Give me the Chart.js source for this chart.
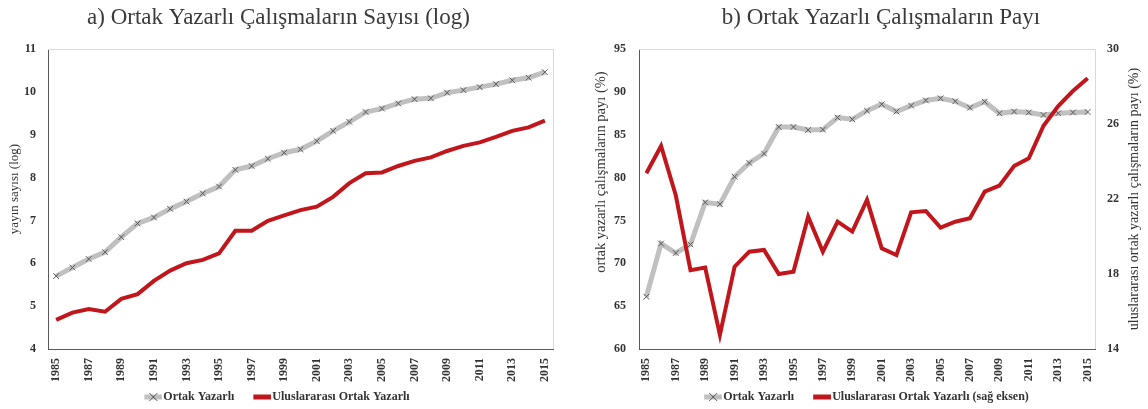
<!DOCTYPE html>
<html>
<head>
<meta charset="utf-8">
<script src="https://cdn.jsdelivr.net/npm/chart.js@4.4.1/dist/chart.umd.min.js"></script>
<style>
  html, body { margin: 0; padding: 0; background: #fff; }
  .wrap { display: flex; width: 1148px; height: 409px; }
  .box { position: relative; width: 574px; height: 409px; }
</style>
</head>
<body>
<div class="wrap">
  <div class="box"><canvas id="chartA"></canvas></div>
  <div class="box"><canvas id="chartB"></canvas></div>
</div>
<script>
// yillar ve okunan degerler
const years = ['1985','1986','1987','1988','1989','1990','1991','1992','1993','1994','1995',
  '1996','1997','1998','1999','2000','2001','2002','2003','2004','2005','2006','2007',
  '2008','2009','2010','2011','2012','2013','2014','2015'];
const shownYears = ['1985','1987','1989','1991','1993','1995','1997','1999','2001','2003',
  '2005','2007','2009','2011','2013','2015'];

// a) sayilar (log)
const ortakLog = [5.70, 5.90, 6.10, 6.26, 6.61, 6.93, 7.07, 7.27, 7.44, 7.63, 7.79, 8.18, 8.27,
  8.44, 8.58, 8.66, 8.85, 9.09, 9.30, 9.53, 9.61, 9.73, 9.83, 9.85, 9.98, 10.04, 10.11, 10.18,
  10.27, 10.33, 10.46];
const uluslararasiLog = [4.68, 4.85, 4.93, 4.87, 5.17, 5.28, 5.59, 5.83, 6.00, 6.08, 6.23, 6.76,
  6.76, 6.99, 7.12, 7.24, 7.32, 7.55, 7.87, 8.10, 8.12, 8.27, 8.39, 8.47, 8.62, 8.74, 8.82, 8.95,
  9.09, 9.17, 9.33];

// b) paylar (%)
const ortakPay = [66.1, 72.3, 71.2, 72.2, 77.1, 76.9, 80.1, 81.7, 82.8, 85.9, 85.9, 85.55, 85.6,
  87.0, 86.8, 87.8, 88.55, 87.7, 88.4, 89.0, 89.25, 88.9, 88.15, 88.85, 87.5, 87.7, 87.6, 87.3,
  87.5, 87.6, 87.65];
const uluslararasiPay = [23.37, 24.83, 22.2, 18.2, 18.34, 14.75, 18.39, 19.19, 19.28, 18.0, 18.12,
  21.06, 19.19, 20.79, 20.26, 21.95, 19.37, 19.01, 21.29, 21.36, 20.47, 20.79, 20.97, 22.39,
  22.71, 23.76, 24.17, 25.91, 26.96, 27.76, 28.44];

// eksen sinirlari [min, max, adim]
const logTicks = [4, 11, 1];
const payTicks = [60, 95, 5];
const sagTicks = [14, 30, 4];

const SERIF = '"Liberation Serif", "DejaVu Serif", serif';
const GRAY = '#c0c0c0';
const RED = '#c0161c';
const AXIS = '#595959';
const TXT = '#333333';

// legend icin kucuk cizgi + isaret (sol tarafi bos birakilir, ogeler arasi bosluk icin)
function swatch(color, cross) {
  const c = document.createElement('canvas');
  c.width = 34; c.height = 10;
  const g = c.getContext('2d');
  g.strokeStyle = color; g.lineWidth = 5;
  g.beginPath(); g.moveTo(16, 5); g.lineTo(34, 5); g.stroke();
  if (cross) {
    g.strokeStyle = AXIS; g.lineWidth = 1;
    g.beginPath(); g.moveTo(21, 1); g.lineTo(29, 9); g.moveTo(29, 1); g.lineTo(21, 9); g.stroke();
  }
  return c;
}
const swatches = [swatch(GRAY, true), swatch(RED, false)];

// ust ve sag acik gri cerceve
const frame = {
  id: 'frame',
  beforeDatasetsDraw(chart) {
    const { ctx, chartArea: a } = chart;
    ctx.save();
    ctx.strokeStyle = '#d9d9d9';
    ctx.lineWidth = 1;
    ctx.beginPath();
    ctx.moveTo(a.left, a.top + 0.5);
    ctx.lineTo(a.right + 0.5, a.top + 0.5);
    ctx.lineTo(a.right + 0.5, a.bottom);
    ctx.stroke();
    ctx.restore();
  }
};

// legend'i biraz sola kaydir
const legendShift = {
  id: 'legendShift',
  afterLayout(chart, args, opts) {
    if (!chart.legend || !opts.dx) return;
    chart.legend.left += opts.dx;
    chart.legend.right += opts.dx;
  }
};

// eksen basliklari (asagidan yukari okunur)
const axisTitles = {
  id: 'axisTitles',
  afterDraw(chart, args, opts) {
    const { ctx } = chart;
    (opts.items || []).forEach(t => {
      ctx.save();
      ctx.translate(t.x, t.y);
      ctx.rotate(-Math.PI / 2);
      ctx.font = t.size + 'px ' + SERIF;
      ctx.fillStyle = TXT;
      ctx.textAlign = 'center';
      ctx.textBaseline = 'middle';
      ctx.fillText(t.text, 0, 0);
      ctx.restore();
    });
  }
};

function xAxis() {
  return {
    type: 'category',
    offset: true,
    grid: { display: false, drawTicks: false },
    border: { color: AXIS, width: 1 },
    ticks: {
      autoSkip: false, minRotation: 90, maxRotation: 90, padding: 9,
      color: TXT, font: { family: SERIF, size: 12, weight: 'bold' },
      callback(v) {
        const y = this.getLabelForValue(v);
        return shownYears.includes(y) ? y : '';
      }
    },
    afterFit(s) { s.height = 34; }
  };
}

function legendOpts(full) {
  return {
    position: 'bottom',
    fullSize: full,
    labels: {
      usePointStyle: true, pointStyleWidth: 24, boxHeight: 10, padding: 8,
      color: TXT, font: { family: SERIF, size: 12, weight: 'bold' },
      generateLabels(chart) {
        const items = Chart.defaults.plugins.legend.labels.generateLabels(chart);
        items.forEach(it => { it.pointStyle = swatches[it.datasetIndex]; });
        return items.sort((p, q) => p.datasetIndex - q.datasetIndex);
      }
    }
  };
}

function titleOpts(text) {
  return {
    display: true, text: text, color: '#3a3a3a',
    font: { family: SERIF, size: 23, weight: 'normal' },
    padding: { top: 4, bottom: 17.4 }
  };
}

function lineSets(a, b, bAxis, bLabel) {
  return [
    {
      label: 'Ortak Yazarlı', data: a, yAxisID: 'y',
      borderColor: GRAY, borderWidth: 5, tension: 0, order: 1,
      pointStyle: 'crossRot', pointRadius: 4, pointBorderColor: AXIS,
      pointBorderWidth: 1, pointBackgroundColor: 'rgba(0,0,0,0)'
    },
    {
      label: bLabel, data: b, yAxisID: bAxis,
      borderColor: RED, backgroundColor: RED, borderWidth: 4, tension: 0,
      pointRadius: 0, order: 0
    }
  ];
}

new Chart(document.getElementById('chartA'), {
  type: 'line',
  data: { labels: years, datasets: lineSets(ortakLog, uluslararasiLog, 'y', 'Uluslararası Ortak Yazarlı') },
  options: {
    responsive: true, maintainAspectRatio: false, animation: false,
    layout: { padding: { left: 4, right: 21, top: 0, bottom: -4 } },
    scales: {
      x: xAxis(),
      y: {
        min: logTicks[0], max: logTicks[1],
        grid: { display: false, drawTicks: false },
        border: { color: AXIS, width: 1 },
        ticks: { stepSize: logTicks[2], padding: 12, color: TXT, font: { family: SERIF, size: 12, weight: 'bold' } },
        afterFit(s) { s.width = 44; }
      }
    },
    plugins: {
      title: titleOpts('a) Ortak Yazarlı Çalışmaların Sayısı (log)'),
      legend: legendOpts(true),
      tooltip: { enabled: false },
      legendShift: { dx: -7 },
      axisTitles: { items: [{ text: 'yayın sayısı (log)', x: 15, y: 189, size: 13 }] }
    }
  },
  plugins: [frame, axisTitles, legendShift]
});

new Chart(document.getElementById('chartB'), {
  type: 'line',
  data: { labels: years, datasets: lineSets(ortakPay, uluslararasiPay, 'y2', 'Uluslararası Ortak Yazarlı (sağ eksen)') },
  options: {
    responsive: true, maintainAspectRatio: false, animation: false,
    layout: { padding: { left: 40, right: 0, top: 0, bottom: -4 } },
    scales: {
      x: xAxis(),
      y: {
        position: 'left', min: payTicks[0], max: payTicks[1],
        grid: { display: false, drawTicks: false },
        border: { color: AXIS, width: 1 },
        ticks: { stepSize: payTicks[2], padding: 13, color: TXT, font: { family: SERIF, size: 12, weight: 'bold' } },
        afterFit(s) { s.width = 25; }
      },
      y2: {
        position: 'right', min: sagTicks[0], max: sagTicks[1],
        grid: { display: false, drawTicks: false },
        border: { display: false },
        ticks: { stepSize: sagTicks[2], padding: 12, color: TXT, font: { family: SERIF, size: 12, weight: 'bold' } },
        afterFit(s) { s.width = 53; }
      }
    },
    plugins: {
      title: titleOpts('b) Ortak Yazarlı Çalışmaların Payı'),
      legend: legendOpts(false),
      tooltip: { enabled: false },
      legendShift: { dx: -6 },
      axisTitles: { items: [
        { text: 'ortak yazarlı çalışmaların payı (%)', x: 27, y: 172, size: 14.5 },
        { text: 'uluslararası ortak yazarlı çalışmaların payı (%)', x: 560, y: 199, size: 14 }
      ] }
    }
  },
  plugins: [frame, axisTitles, legendShift]
});
</script>
</body>
</html>
